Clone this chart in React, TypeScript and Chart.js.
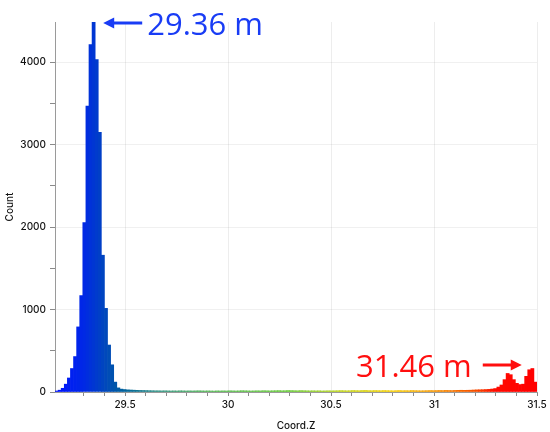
import React, { useEffect, useRef } from 'react';
import { Chart, registerables } from 'chart.js';

Chart.register(...registerables);

// Histogram bins (Coord.Z), bin start and width
const BIN_START = 29.16;
const BIN_WIDTH = 0.015;
const X_MIN = 29.16;
const X_MAX = 31.5;
const Y_MAX = 4490;

// Counts per bin
const counts: number[] = [
  12, 22, 45, 95, 170, 285, 430, 790, 1170, 2055, 3470, 4215, 4490, 4035, 3150, 1660, 1015, 570, 330, 120, 50, 35, 30, 26,
  24, 22, 20, 19, 18, 17, 16, 15, 14, 14,
  13, 14, 13, 12, 13, 12, 14, 13, 12, 13,
  12, 13, 14, 13, 12, 13, 12, 11, 13, 12,
  13, 12, 14, 13, 12, 13, 15, 14, 13, 12,
  13, 14, 13, 15, 14, 13, 14, 15, 16, 14,
  15, 17, 16, 15, 14, 16, 15, 14, 13, 14,
  13, 14, 12, 13, 14, 13, 14, 15, 16, 15,
  14, 15, 17, 16, 15, 17, 18, 16, 15, 17,
  16, 15, 17, 16, 15, 14, 16, 17, 15, 16,
  15, 17, 16, 15, 14, 15, 16, 17, 16, 17,
  18, 17, 19, 18, 17, 19, 20, 21, 20, 21,
  22, 24, 26, 27, 28, 30, 32, 36, 42,
  60, 85, 150, 225, 210, 150, 105, 90, 95, 190, 270, 285, 120,
];

// Y ticks (minor every 500, labelled every 1000)
const yTickValues = [0, 500, 1000, 1500, 2000, 2500, 3000, 3500, 4000];

// Annotations
const peakValues = [29.36, 31.46];
const peakLabels = ['29.36 m', '31.46 m'];

// Colour ramp along Coord.Z
const rampStops: [number, number[]][] = [
  [29.16, [0, 20, 255]],
  [29.3, [0, 40, 230]],
  [29.4, [0, 70, 190]],
  [29.48, [0, 95, 160]],
  [29.65, [40, 140, 130]],
  [29.9, [80, 180, 80]],
  [30.3, [100, 200, 50]],
  [30.55, [190, 210, 20]],
  [30.8, [245, 205, 0]],
  [31.0, [245, 150, 0]],
  [31.2, [245, 80, 0]],
  [31.3, [255, 10, 0]],
  [31.5, [255, 0, 0]],
];

function rampColor(x: number): string {
  if (x <= rampStops[0][0]) return `rgb(${rampStops[0][1].join(',')})`;
  for (let i = 1; i < rampStops.length; i++) {
    const [x1, c1] = rampStops[i];
    const [x0, c0] = rampStops[i - 1];
    if (x <= x1) {
      const t = (x - x0) / (x1 - x0);
      const c = c0.map((v, k) => Math.round(v + (c1[k] - v) * t));
      return `rgb(${c.join(',')})`;
    }
  }
  return `rgb(${rampStops[rampStops.length - 1][1].join(',')})`;
}

const isMultiple = (v: number, step: number) => Math.abs(v / step - Math.round(v / step)) < 1e-6;

const FONT = 'Inter, "Liberation Sans", Arial, sans-serif';

const annotationPlugin = {
  id: 'peakAnnotations',
  afterDatasetsDraw(chart: any) {
    const { ctx, scales } = chart;
    const xs = scales.x;
    const ys = scales.y;
    ctx.save();
    ctx.font = '31px "Open Sans", "Noto Sans", sans-serif';
    ctx.textBaseline = 'alphabetic';
    ctx.lineWidth = 3;

    // Blue: left peak, arrow pointing left to top of the peak
    {
      const col = 'rgb(25,60,245)';
      const tipX = xs.getPixelForValue(peakValues[0]) + 7;
      const y = ys.getPixelForValue(Y_MAX) + 1;
      ctx.strokeStyle = col;
      ctx.fillStyle = col;
      ctx.beginPath();
      ctx.moveTo(tipX + 9, y);
      ctx.lineTo(tipX + 39, y);
      ctx.stroke();
      ctx.beginPath();
      ctx.moveTo(tipX, y);
      ctx.lineTo(tipX + 11, y - 5.5);
      ctx.lineTo(tipX + 11, y + 5.5);
      ctx.closePath();
      ctx.fill();
      ctx.textAlign = 'left';
      ctx.fillText(peakLabels[0], tipX + 44, y + 12);
    }

    // Red: right peak, arrow pointing right
    {
      const col = 'rgb(255,15,15)';
      const tipX = xs.getPixelForValue(peakValues[1]) - 7;
      const y = ys.getPixelForValue(0) - 27;
      ctx.strokeStyle = col;
      ctx.fillStyle = col;
      ctx.beginPath();
      ctx.moveTo(tipX - 39, y);
      ctx.lineTo(tipX - 9, y);
      ctx.stroke();
      ctx.beginPath();
      ctx.moveTo(tipX, y);
      ctx.lineTo(tipX - 11, y - 5.5);
      ctx.lineTo(tipX - 11, y + 5.5);
      ctx.closePath();
      ctx.fill();
      ctx.textAlign = 'right';
      ctx.fillText(peakLabels[1], tipX - 50, y + 12);
    }
    ctx.restore();
  },
};

export default function App() {
  const canvasRef = useRef<HTMLCanvasElement | null>(null);

  useEffect(() => {
    if (!canvasRef.current) return;
    const data = counts.map((c, i) => ({ x: BIN_START + BIN_WIDTH * (i + 0.5), y: c }));
    const chart = new Chart(canvasRef.current, {
      type: 'bar',
      data: {
        datasets: [
          {
            data: data as any,
            backgroundColor: (ctx: any) => rampColor(ctx.raw ? ctx.raw.x : X_MIN),
            borderColor: (ctx: any) => rampColor(ctx.raw ? ctx.raw.x : X_MIN),
            borderWidth: 0,
            barPercentage: 1.0,
            categoryPercentage: 1.0,
          },
        ],
      },
      options: {
        responsive: false,
        animation: false,
        devicePixelRatio: 1,
        layout: { padding: { top: 22, right: 13, left: 0, bottom: 0 } },
        plugins: {
          legend: { display: false },
          tooltip: { enabled: false },
        },
        scales: {
          x: {
            type: 'linear',
            min: X_MIN,
            max: X_MAX,
            offset: false,
            afterFit: (s: any) => {
              s.height = 40;
            },
            ticks: {
              stepSize: 0.1,
              autoSkip: false,
              maxRotation: 0,
              padding: 3,
              color: '#111',
              font: { size: 10, family: FONT, weight: '500' },
              callback: (v: any) => (isMultiple(Number(v), 0.5) ? String(Number(v)) : ''),
            },
            grid: {
              offset: false,
              color: (ctx: any) =>
                ctx.tick && isMultiple(ctx.tick.value, 0.5) ? 'rgba(0,0,0,0.07)' : 'rgba(0,0,0,0)',
              tickColor: (ctx: any) =>
                ctx.tick && isMultiple(ctx.tick.value, 0.1) ? '#8a8a8a' : 'rgba(0,0,0,0)',
              tickLength: 4,
            },
            border: { display: true, color: '#9a9a9a', width: 1 },
            title: {
              display: true,
              text: 'Coord.Z',
              color: '#111',
              font: { size: 10, family: FONT, weight: '500' },
              padding: { top: 0, bottom: 0 },
            },
          },
          y: {
            type: 'linear',
            min: 0,
            max: Y_MAX,
            afterFit: (s: any) => {
              s.width = 55;
            },
            afterBuildTicks: (s: any) => {
              s.ticks = yTickValues.map((v) => ({ value: v }));
            },
            ticks: {
              autoSkip: false,
              padding: 4,
              color: '#111',
              font: { size: 10, family: FONT, weight: '500' },
              callback: (v: any) => (Number(v) % 1000 === 0 ? String(v) : ''),
            },
            grid: {
              color: (ctx: any) =>
                ctx.tick && ctx.tick.value > 0 && ctx.tick.value % 1000 === 0 ? 'rgba(0,0,0,0.06)' : 'rgba(0,0,0,0)',
              tickColor: '#8a8a8a',
              tickLength: 5,
            },
            border: { display: true, color: '#9a9a9a', width: 1 },
            title: {
              display: true,
              text: 'Count',
              color: '#111',
              font: { size: 10, family: FONT, weight: '500' },
              padding: { top: 4, bottom: 0 },
            },
          },
        },
      } as any,
      plugins: [annotationPlugin],
    });
    return () => chart.destroy();
  }, []);

  return (
    <div style={{ position: 'fixed', left: 0, top: 0, width: 550, height: 432, background: '#fff' }}>
      <canvas ref={canvasRef} width={550} height={432} style={{ display: 'block', width: 550, height: 432 }} />
    </div>
  );
}
